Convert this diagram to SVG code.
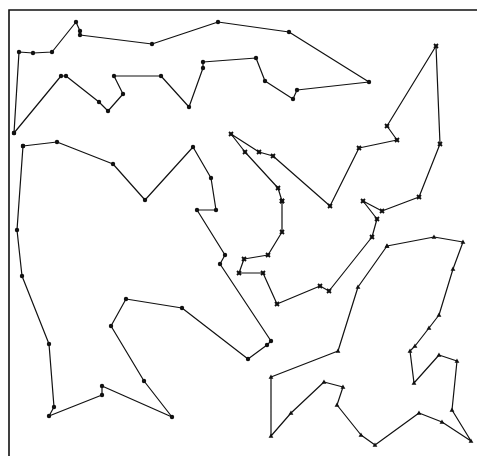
<svg xmlns="http://www.w3.org/2000/svg" width="477" height="456" viewBox="0 0 477 456">
<defs>
<marker id="dot" viewBox="-3 -3 6 6" markerWidth="6" markerHeight="6" markerUnits="userSpaceOnUse"><circle r="2.2" fill="#111"/></marker>
<marker id="sq" viewBox="-3 -3 6 6" markerWidth="6" markerHeight="6" markerUnits="userSpaceOnUse"><path d="M-2,-2L2,2M2,-2L-2,2" stroke="#111" stroke-width="1.8"/><rect x="-1.3" y="-1.3" width="2.6" height="2.6" fill="#111"/></marker>
<marker id="tri" viewBox="-3 -3 6 6" markerWidth="6" markerHeight="6" markerUnits="userSpaceOnUse"><path d="M0,-2.6L2.4,1.8L-2.4,1.8Z" fill="#111"/></marker>
</defs>
<style>
.frame{fill:none;stroke:#111;stroke-width:1.6}
.route{fill:none;stroke:#111;stroke-width:1.2;stroke-linejoin:round}
.r1,.r2{marker-start:url(#dot);marker-mid:url(#dot);marker-end:url(#dot)}
.r3{marker-start:url(#sq);marker-mid:url(#sq);marker-end:url(#sq)}
.r4{marker-start:url(#tri);marker-mid:url(#tri);marker-end:url(#tri)}
</style>
<rect width="477" height="456" fill="#fff"/>
<g id="frame">
<path class="frame" d="M477,10H9V456"/>
</g>
<g id="connectors">
<polygon id="route1" class="route r1" points="14,133 19,52 33,53 52,52 76,22 80,31 80,35 152,44 218,22 289,32 369,82 297,90 293,99 265,81 256,58 203,62 203,68 189,107 161,76 114,76 123,94 108,111 99,102 66,76 61,76"/>
<polygon id="route2" class="route r2" points="23,146 57,142 113,164 145,200 193,147 211,178 216,210 197,210 225,255 220,264 271,341 267,345 248,359 182,308 126,299 111,326 144,381 172,417 102,386 102,395 49,416 54,407 49,344 22,276 17,230"/>
<polygon id="route3" class="route r3" points="282,201 278,188 245,152 231,134 259,152 273,156 330,206 359,148 397,140 387,126 436,46 440,144 419,197 382,211 363,201 377,219 372,237 329,291 320,286 277,304 263,273 239,273 244,259 268,255 282,232"/>
<polygon id="route4" class="route r4" points="387,246 434,237 463,242 453,269 439,315 429,328 415,346 410,351 414,383 439,355 457,361 452,410 471,441 442,422 419,413 375,445 361,435 337,405 343,387 324,382 291,413 271,436 271,377 338,351 358,287"/>
</g>
</svg>
